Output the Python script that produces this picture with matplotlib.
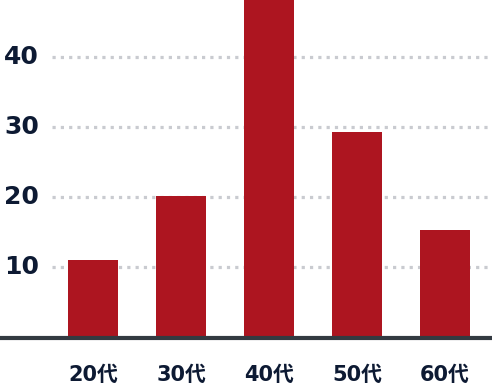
import matplotlib
matplotlib.use("Agg")
import matplotlib.pyplot as plt
import matplotlib.transforms as mtransforms

categories = ["20代", "30代", "40代", "50代", "60代"]
values = [11.0, 20.1, 48.5, 29.3, 15.3]
yticks = [10, 20, 30, 40]

W, H = 492, 390
fig = plt.figure(figsize=(W / 100, H / 100), dpi=100)
bottom_px = 53
ax = fig.add_axes([0, bottom_px / H, 1, 1 - bottom_px / H])

ymax = 337 / 7.0
ax.set_ylim(0, ymax)
ax.set_xlim(-93 / 88, (492 - 93) / 88)

bar_color = "#ad1520"
x = list(range(len(categories)))
ax.bar(x, values, width=50 / 88, color=bar_color, zorder=2)

grid_color = "#c9cbd0"
for t in yticks:
    ax.axhline(t, xmin=52 / W, xmax=1, color=grid_color, linewidth=2.3,
               linestyle=(0, (1, 1.6)), dash_capstyle="butt", zorder=1)

ax.axhline(-0.1, xmin=2 / W, xmax=1, color="#333a41", linewidth=3.0, zorder=3,
           clip_on=False)

trans = mtransforms.blended_transform_factory(ax.transAxes, ax.transData)
for t in yticks:
    ax.text(4 / W, t, str(t), transform=trans, ha="left", va="center",
            fontsize=18, fontweight="bold", color="#0d1a33",
            family=["DejaVu Sans"])

ax.set_xticks(x)
ax.set_xticklabels(categories, fontfamily=["DejaVu Sans", "Noto Sans CJK JP"],
                   fontsize=15, fontweight="bold", color="#0d1a33")
ax.tick_params(axis="x", length=0, pad=20)
ax.set_yticks([])
for s in ax.spines.values():
    s.set_visible(False)
ax.patch.set_alpha(0)

fig.savefig("out.png", dpi=100, facecolor="white")
